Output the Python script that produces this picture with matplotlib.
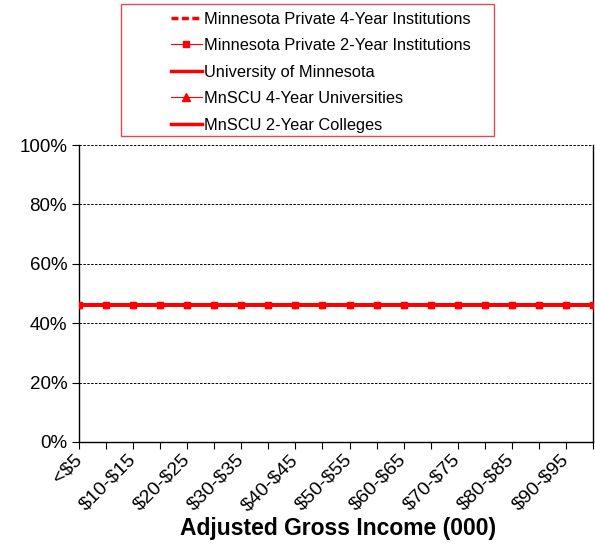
import matplotlib.pyplot as plt
from matplotlib.lines import Line2D
from matplotlib.patches import Rectangle

plt.rcParams['font.family'] = ['Liberation Sans', 'DejaVu Sans']
plt.rcParams['text.parse_math'] = False

# income brackets (thousands), one point per bracket
brackets = ['<$5', '$5-$10', '$10-$15', '$15-$20', '$20-$25', '$25-$30',
            '$30-$35', '$35-$40', '$40-$45', '$45-$50', '$50-$55', '$55-$60',
            '$60-$65', '$65-$70', '$70-$75', '$75-$80', '$80-$85', '$85-$90',
            '$90-$95', '$95-$100']

private_4yr = [0.46] * 20
private_2yr = [0.46] * 20
univ_mn = [0.46] * 20
mnscu_4yr = [0.46] * 20
mnscu_2yr = [0.46] * 20

series_names = ['Minnesota Private 4-Year Institutions',
                'Minnesota Private 2-Year Institutions',
                'University of Minnesota',
                'MnSCU 4-Year Universities',
                'MnSCU 2-Year Colleges']

RED = '#ff0000'

fig = plt.figure(figsize=(5.95, 5.46), dpi=100)
ax = fig.add_axes([79 / 595, 1 - 442 / 546, 514 / 595, 297 / 546])

x = list(range(len(brackets)))
ax.plot(x, private_4yr, color=RED, lw=2.8, ls='--', zorder=3)
ax.plot(x, mnscu_4yr, color=RED, lw=1.0, marker='^', ms=5, zorder=3)
ax.plot(x, univ_mn, color=RED, lw=2.8, zorder=3)
ax.plot(x, mnscu_2yr, color=RED, lw=2.8, zorder=3)
ax.plot(x, private_2yr, color=RED, lw=2.8, marker='s', ms=5, zorder=4)

ax.set_xlim(0, len(brackets) - 1)
ax.set_ylim(0, 1)
ax.set_yticks([0, 0.2, 0.4, 0.6, 0.8, 1.0])
ax.set_yticklabels(['0%', '20%', '40%', '60%', '80%', '100%'])
ax.yaxis.grid(True, color='black', ls=(0, (2.5, 1.5)), lw=0.7)
ax.set_axisbelow(True)

ax.set_xticks(x)
ax.set_xticklabels([b if i % 2 == 0 else '' for i, b in enumerate(brackets)],
                   rotation=45, ha='right', va='center', rotation_mode='anchor')
ax.tick_params(axis='both', labelsize=13.5, length=5, width=0.8, direction='out')
ax.tick_params(axis='x', labelsize=14, pad=6)
ax.spines['top'].set_visible(False)
for s in ('left', 'bottom', 'right'):
    ax.spines[s].set_linewidth(1.0)

ax.set_xlabel('Adjusted Gross Income (000)', fontsize=16.5, fontweight='bold')
ax.xaxis.set_label_coords(0.504, -0.252)

# legend entries and the red box around them
handles = [
    Line2D([], [], color=RED, lw=2.5, ls=(0, (2, 1))),
    Line2D([], [], color=RED, lw=0.8, marker='s', ms=5),
    Line2D([], [], color=RED, lw=2.5),
    Line2D([], [], color=RED, lw=0.8, marker='^', ms=6),
    Line2D([], [], color=RED, lw=2.5),
]
fig.legend(handles, series_names, loc='upper left',
           bbox_to_anchor=(156 / 595, 1 + 3 / 546), frameon=False,
           fontsize=11.8, handlelength=1.9, handletextpad=0.15,
           labelspacing=0.7)
fig.patches.append(Rectangle((121 / 595, 1 - 136 / 546), 373 / 595, 132 / 546,
                             transform=fig.transFigure, fill=False,
                             edgecolor='#e8474b', lw=1.0))

fig.savefig('out.png', dpi=100)
